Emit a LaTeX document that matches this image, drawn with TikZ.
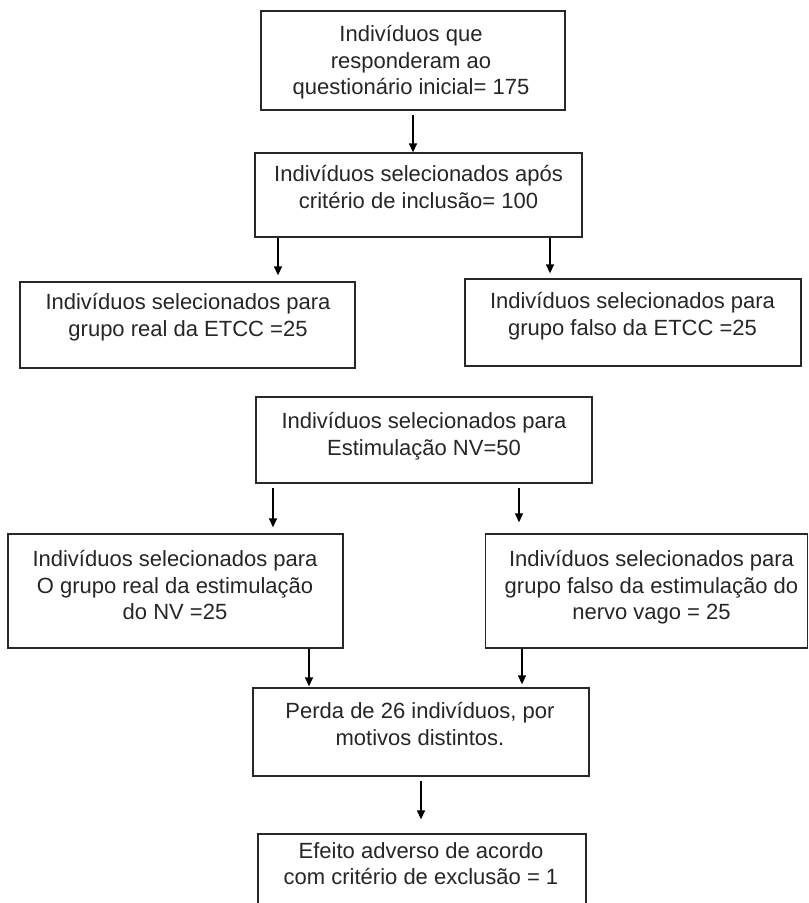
\documentclass[tikz,border=0pt]{standalone}
\usepackage{fontspec}
\setmainfont{Liberation Sans}
\usetikzlibrary{arrows.meta,calc}
\definecolor{ink}{RGB}{38,38,38}
\definecolor{edge}{RGB}{40,40,40}
\begin{document}
\begin{tikzpicture}[x=1pt,y=-1pt,
 box/.style={draw=edge,line width=1.3pt,inner sep=0pt,rectangle},
 txt/.style={text=ink,align=center,inner sep=0pt,anchor=north,font=\fontsize{22}{26.7}\selectfont},
 arr/.style={draw=black,line width=1.3pt,-{Triangle[width=8pt,length=9pt]}}]
\clip (0,0) rectangle (809,903);
\fill[white] (0,0) rectangle (809,903);
% boxes
\node[box,minimum width=304pt,minimum height=99pt] (b1) at (413,60.5) {};
\node[box,minimum width=327pt,minimum height=84pt] (b2) at (418.5,195) {};
\node[box,minimum width=335pt,minimum height=86pt] (b3) at (187.5,325) {};
\node[box,minimum width=336pt,minimum height=87pt] (b4) at (633,322.5) {};
\node[box,minimum width=336pt,minimum height=86pt] (b5) at (424,440) {};
\node[box,minimum width=335pt,minimum height=114pt] (b6) at (175.5,591) {};
\node[box,minimum width=322pt,minimum height=114pt] (b8) at (646.5,591) {};
\node[box,minimum width=336pt,minimum height=88pt] (b7) at (421,732) {};
\node[box,minimum width=328pt,minimum height=92pt] (b9) at (422,880) {};
% texts
\node[txt] (t1) at (411,25) {Indivíduos que\\responderam ao\\questionário inicial= 175};
\node[txt] (t2) at (418.5,165) {Indivíduos selecionados após\\critério de inclusão= 100};
\node[txt] (t3) at (188,293) {Indivíduos selecionados para\\grupo real da ETCC =25};
\node[txt] (t4) at (632.5,292) {Indivíduos selecionados para\\grupo falso da ETCC =25};
\node[txt] (t5) at (424,412) {Indivíduos selecionados para\\Estimulação NV=50};
\node[txt] (t6) at (175,550) {Indivíduos selecionados para\\O grupo real da estimulação\\do NV =25};
\node[txt] (t8) at (651.5,550) {Indivíduos selecionados para\\grupo falso da estimulação do\\nervo vago = 25};
\node[txt] (t7) at (420,702) {Perda de 26 indivíduos, por\\motivos distintos.};
\node[txt] (t9) at (421,842) {Efeito adverso de acordo\\com critério de exclusão = 1};
% arrows
\draw[arr,shorten <=4pt] (b1.south) -- (b1.south |- b2.north);
\draw[arr,shorten >=6pt] ([xshift=-140.5pt]b2.south) -- ([xshift=-140.5pt]b2.south |- b3.north);
\draw[arr,shorten >=5pt] ([xshift=131.5pt]b2.south) -- ([xshift=131.5pt]b2.south |- b4.north);
\draw[arr,shorten <=4pt,shorten >=6pt] ([xshift=-151pt]b5.south) -- ([xshift=-151pt]b5.south |- b6.north);
\draw[arr,shorten <=4pt,shorten >=11pt] ([xshift=95pt]b5.south) -- ([xshift=95pt]b5.south |- b8.north);
\draw[arr,shorten >=1pt] ([xshift=133.5pt]b6.south) -- ([xshift=133.5pt]b6.south |- b7.north);
\draw[arr,shorten >=3pt] ([xshift=-124.5pt]b8.south) -- ([xshift=-124.5pt]b8.south |- b7.north);
\draw[arr,shorten <=4pt,shorten >=14pt] (b7.south) -- (b7.south |- b9.north);
\end{tikzpicture}
\end{document}
